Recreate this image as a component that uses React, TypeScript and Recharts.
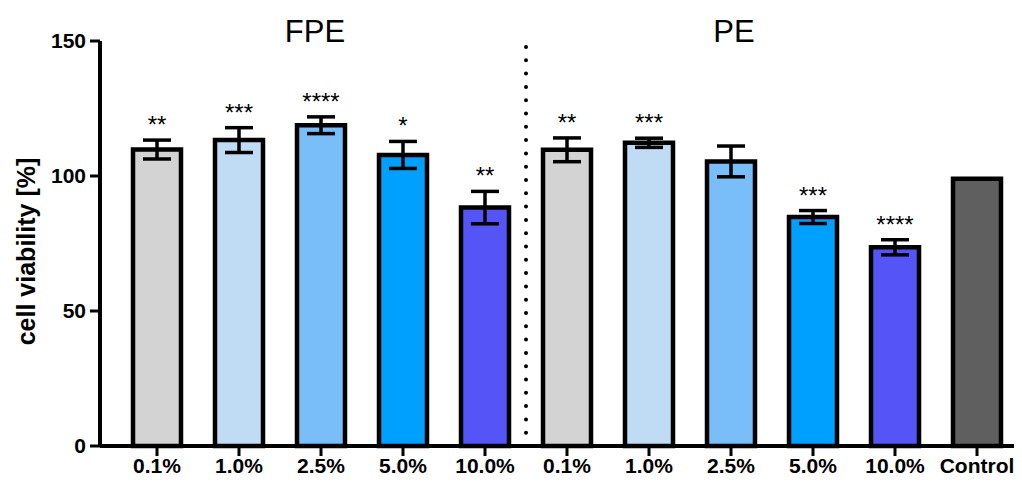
import React from 'react';
import { BarChart, Bar, XAxis, YAxis, Cell, ErrorBar, LabelList, ReferenceLine } from 'recharts';

const categories = ['FPE 0.1%', 'FPE 1.0%', 'FPE 2.5%', 'FPE 5.0%', 'FPE 10.0%', 'PE 0.1%', 'PE 1.0%', 'PE 2.5%', 'PE 5.0%', 'PE 10.0%', 'Control'];
const tickLabels = ['0.1%', '1.0%', '2.5%', '5.0%', '10.0%', '0.1%', '1.0%', '2.5%', '5.0%', '10.0%', 'Control'];
const means = [109.8, 113.3, 118.8, 107.8, 88.3, 109.7, 112.3, 105.4, 84.8, 73.6, 99];
const errors = [3.5, 4.6, 3.1, 5, 6, 4.4, 1.7, 5.7, 2.4, 2.8, 0];
const stars = ['**', '***', '****', '*', '**', '**', '***', '', '***', '****', ''];
const colors = ['#d3d3d3', '#c0dcf5', '#79bdf9', '#00a1fe', '#5555f7', '#d3d3d3', '#c0dcf5', '#79bdf9', '#00a1fe', '#5555f7', '#5f5f5f'];
const yTicks = [0, 50, 100, 150];

const data = categories.map((c, i) => ({ cat: c, mean: means[i], err: errors[i], stars: stars[i] }));

const FONT = 'Liberation Sans, Arial, Helvetica, sans-serif';

const StarLabel = (props: any) => {
  const { x, y, width, height, index } = props;
  const i = index as number;
  if (!stars[i]) return null;
  const errPx = (errors[i] * Number(height)) / means[i];
  const top = Number(y) - errPx;
  return (
    <text x={Number(x) + Number(width) / 2} y={top - 7} textAnchor="middle" fontSize={24} fontFamily={FONT} fill="#000">
      {stars[i]}
    </text>
  );
};

const YLabel = (props: any) => {
  const vb = props.viewBox || {};
  const cx = (vb.x || 0) + 18;
  const cy = (vb.y || 0) + (vb.height || 0) / 2 + 8;
  return (
    <text x={cx} y={cy} transform={`rotate(-90, ${cx}, ${cy})`} textAnchor="middle" dominantBaseline="central" fontSize={25} fontWeight="bold" fontFamily={FONT} fill="#000">
      cell viability [%]
    </text>
  );
};

export default function App() {
  return (
    <BarChart width={1014} height={476} data={data} margin={{ top: 33, right: 2, bottom: 0, left: 0 }}>
      <XAxis
        dataKey="cat"
        tickFormatter={(v: string) => tickLabels[categories.indexOf(v)]}
        padding={{ left: 16, right: 2 }}
        height={38}
        interval={0}
        axisLine={{ stroke: '#000', strokeWidth: 4 }}
        tickLine={{ stroke: '#000', strokeWidth: 3 }}
        tickSize={10}
        tickMargin={2}
        tick={{ fill: '#000', fontSize: 21, fontWeight: 'bold', fontFamily: FONT }}
      />
      <YAxis
        domain={[0, 150]}
        ticks={yTicks}
        width={92}
        axisLine={{ stroke: '#000', strokeWidth: 4 }}
        tickLine={{ stroke: '#000', strokeWidth: 3 }}
        tickSize={10}
        tickMargin={4}
        tick={{ fill: '#000', fontSize: 21, fontWeight: 'bold', fontFamily: FONT }}
        label={{ content: <YLabel /> }}
      />
      <ReferenceLine
        x="FPE 10.0%"
        position="end"
        stroke="#000"
        strokeWidth={4}
        strokeDasharray="0 13.3"
        strokeLinecap="round"
      />
      <ReferenceLine
        x="FPE 2.5%"
        stroke="none"
        label={{ value: 'FPE', position: 'top', offset: -1, dx: -6, fontSize: 31, fill: '#000', fontFamily: FONT }}
      />
      <ReferenceLine
        x="PE 2.5%"
        stroke="none"
        label={{ value: 'PE', position: 'top', offset: -1, dx: 3, fontSize: 31, fill: '#000', fontFamily: FONT }}
      />
      <Bar dataKey="mean" barSize={48} stroke="#000" strokeWidth={4.5} isAnimationActive={false}>
        {data.map((d, i) => (
          <Cell key={d.cat} fill={colors[i]} />
        ))}
        <ErrorBar dataKey="err" width={14} stroke="#000" strokeWidth={3.5} direction="y" />
        <LabelList dataKey="stars" content={<StarLabel />} />
      </Bar>
    </BarChart>
  );
}
